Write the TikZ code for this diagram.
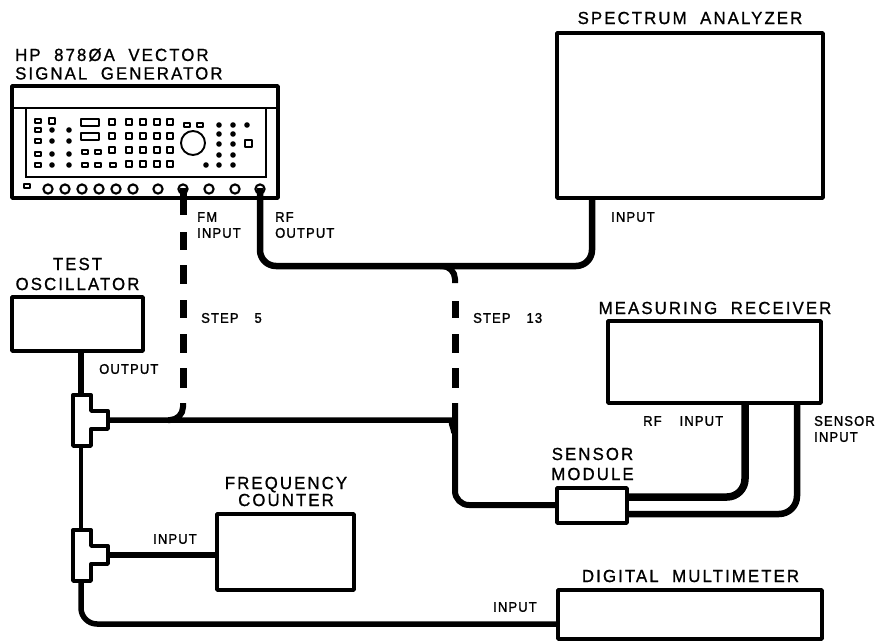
\documentclass[tikz,border=0pt]{standalone}
\usepackage{fontspec}
\newfontfamily\bigf[FakeStretch=0.96,LetterSpace=12,FakeBold=0.9,WordSpace=2]{Liberation Sans}
\newfontfamily\smallf[FakeStretch=0.93,LetterSpace=8,FakeBold=1.4,WordSpace=2]{Liberation Sans}
\tikzset{
  dev/.style={draw=black,line width=3.6pt,fill=white,rectangle,inner sep=0pt,line join=round},
  big/.style={inner sep=0pt,font=\bigf\fontsize{17.5}{18.5}\selectfont,align=center,text=black},
  wide lead/.style={font=\bigf\fontsize{17.5}{20}\selectfont},
  small/.style={inner sep=0pt,font=\smallf\fontsize{14}{16}\selectfont,align=left,text=black},
  cable/.style={draw=black,line width=6.5pt,rounded corners=16pt,line join=round},
  thin cable/.style={cable,line width=5.5pt,rounded corners=14pt},
  dash seg/.style={draw=black,line width=7pt},
  ctl/.style={draw=black,line width=2pt,fill=white,line join=round},
  dot/.style={fill=black},
  tee/.style={draw=black,line width=3.4pt,fill=white,line join=round},
}
\newcommand\btn[3]{\draw[ctl] (#1-#3,#2-2.2) rectangle (#1+#3,#2+2.2);}
\newcommand\sqb[2]{\draw[ctl] (#1-3,#2-3.4) rectangle (#1+3,#2+3.4);}
\begin{document}
\begin{tikzpicture}[x=1pt,y=-1pt]
\useasboundingbox (0,0) rectangle (881,641);
\fill[white] (0,0) rectangle (881,641);

% generator
\node[dev,minimum width=266pt,minimum height=112pt] (gen) at (145,142) {};
\draw[line width=2.4pt] (gen.west |- 0,108) -- (gen.east |- 0,108);
\draw[line width=2pt] (26,108) -- (26,177) -- (266,177) -- (266,108);
\foreach \y in {121,130,141,154,165} {\btn{38}{\y}{3.2}}
\foreach \x/\y in {52/130,52/141,52/154,52/165,69/130,69/141,69/154,69/165,
  219/125,233/125,247/125,219/134,233/134,219/144,233/144,219/155,233/155,206/165,219/165,233/165}
  {\fill[dot] (\x,\y) circle (2.8pt);}
\sqb{52}{121}
\foreach \y in {122,136} {\draw[ctl] (81,\y-3.5) rectangle (99,\y+3.5);}
\foreach \x/\y in {85/152,98/152,85/165,98/165,113/165,187/125,200/125} {\btn{\x}{\y}{3.2}}
\foreach \y in {122,136,150} {\sqb{112}{\y}}
\foreach \x in {129,143,157,170} {\foreach \y in {122,136,150,164} {\sqb{\x}{\y}}}
\draw[line width=1.9pt] (193,143) circle (12pt);
\draw[ctl] (244.5,139.5) rectangle (251.5,146.5);
\btn{27}{186}{3}
\foreach \x in {48,65,82,99,116,133,158,183,209,235,260} {\draw[line width=2.1pt] (\x,189) circle (4.6pt);}
\coordinate (fmport) at (183,188);
\coordinate (rfport) at (260,188);

% boxes
\node[dev,minimum width=266pt,minimum height=165pt] (sa) at (690,115.5) {};
\node[dev,minimum width=213pt,minimum height=82pt] (mr) at (714.5,362) {};
\node[dev,minimum width=131pt,minimum height=54pt] (osc) at (77.5,324) {};
\node[dev,minimum width=137pt,minimum height=76pt] (fc) at (285.5,552) {};
\node[dev,minimum width=264pt,minimum height=49pt] (dmm) at (690,614.5) {};

% tees
\path[tee] (73,395) -- (91,395) -- (91,411) -- (108,411) -- (108,429) -- (91,429) -- (91,446) -- (73,446) -- cycle;
\path[tee] (73,530) -- (91,530) -- (91,546) -- (108,546) -- (108,564) -- (91,564) -- (91,581) -- (73,581) -- cycle;
\coordinate (t1top) at (81,395);
\coordinate (t1bot) at (81,446);
\coordinate (t1arm) at (108,420);
\coordinate (t2top) at (81,530);
\coordinate (t2bot) at (81,581);
\coordinate (t2arm) at (108,555);

% sensor module
\node[dev,minimum width=70pt,minimum height=35pt] (sm) at (592,505.5) {};

% cables
\draw[line width=6.7pt] (osc.south -| t1top) -- (t1top);
\draw[thin cable,line width=4.5pt] (t1bot) -- (t2top);
\draw[cable,line width=5.5pt] (t2bot) -- (81,624) -- (dmm.west |- 0,624);
\draw[thin cable] (t2arm) -- (fc.west |- t2arm);
\draw[thin cable] (t1arm) -- (441,420) .. controls (448,420) and (453,425) .. (454,433);
\draw[thin cable,line width=6pt] (455,403) -- (455,505) -- (sm.west |- 0,505);
\draw[cable] (rfport) -- (260,266) -- (592,266) -- (sa.south -| 592,0);
\draw[cable,line width=7.5pt,rounded corners=18pt] (mr.south -| 745,0) -- (745,497) -- (sm.east |- 0,497);
\draw[cable,rounded corners=18pt] (mr.south -| 797,0) -- (797,514) -- (sm.east |- 0,514);

% dashed
\draw[dash seg] (fmport) -- (183,215);
\foreach \a/\b in {232/250,265/284,300/318,334/353,368/388} {\draw[dash seg] (183,\a) -- (183,\b);}
\draw[line width=6pt,rounded corners=13pt] (183,403) -- (183,420) -- (168,420);
\foreach \a/\b in {301/318,334/353,368/388} {\draw[dash seg] (455,\a) -- (455,\b);}
\draw[line width=6pt,rounded corners=13pt] (455,283) -- (455,266) -- (440,266);

% labels
\node[big,align=left,anchor=west] (gent) at (15,64) {HP 878ØA VECTOR\\SIGNAL GENERATOR};
\node[big] (sat) at (690,18) {SPECTRUM ANALYZER};
\node[big,wide lead] (osct) at (77.5,274) {TEST\\OSCILLATOR};
\node[big] (mrt) at (715,308) {MEASURING RECEIVER};
\node[big,font=\bigf\fontsize{17.5}{17}\selectfont] (fct) at (286,491.5) {FREQUENCY\\COUNTER};
\node[big] (dmmt) at (690.5,576) {DIGITAL MULTIMETER};
\node[big,wide lead] (smt) at (592.5,464) {SENSOR\\MODULE};
\node[small,anchor=west] (fml) at (197,225) {FM\\INPUT};
\node[small,anchor=west] (rfl) at (275,225) {RF\\OUTPUT};
\node[small,anchor=west] (sai) at (611,217) {INPUT};
\node[small,anchor=west] (st5) at (201,318) {STEP\ \kern-3pt\ 5};
\node[small,anchor=west] (st13) at (473,318) {STEP\ \kern-3pt\ 13};
\node[small,anchor=west] (oscl) at (99,369) {OUTPUT};
\node[small,anchor=west] (fci) at (153,539) {INPUT};
\node[small,anchor=west] (mri) at (643,421) {RF\ \kern-1pt\ INPUT};
\node[small,anchor=west] (msi) at (814,429) {SENSOR\\INPUT};
\node[small,anchor=west] (dmi) at (493,607) {INPUT};
\end{tikzpicture}
\end{document}
